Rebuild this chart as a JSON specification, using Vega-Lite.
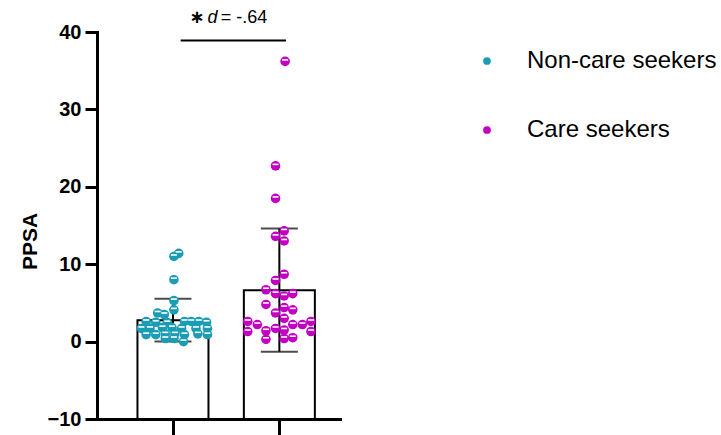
{
  "$schema": "https://vega.github.io/schema/vega-lite/v6.json",
  "autosize": {"type": "none"},
  "width": 243,
  "height": 387,
  "padding": {"left": 97, "top": 32, "right": 381, "bottom": 16},
  "background": "white",
  "config": {
    "view": {"stroke": null},
    "font": "Liberation Sans",
    "axis": {"grid": false, "domainColor": "black", "tickColor": "black", "domainWidth": 3, "tickWidth": 3, "domainCap": "square"}
  },
  "datasets": {
    "points": [
      {"group": "Non-care seekers", "x": 1.054, "PPSA": 11.4},
      {"group": "Non-care seekers", "x": 1.009, "PPSA": 11.0},
      {"group": "Non-care seekers", "x": 1.009, "PPSA": 8.0},
      {"group": "Non-care seekers", "x": 1.009, "PPSA": 5.3},
      {"group": "Non-care seekers", "x": 1.009, "PPSA": 4.1},
      {"group": "Non-care seekers", "x": 0.856, "PPSA": 3.7},
      {"group": "Non-care seekers", "x": 0.919, "PPSA": 3.5},
      {"group": "Non-care seekers", "x": 0.748, "PPSA": 2.6},
      {"group": "Non-care seekers", "x": 0.838, "PPSA": 2.5},
      {"group": "Non-care seekers", "x": 0.946, "PPSA": 2.45},
      {"group": "Non-care seekers", "x": 1.108, "PPSA": 2.6},
      {"group": "Non-care seekers", "x": 1.171, "PPSA": 2.6},
      {"group": "Non-care seekers", "x": 1.243, "PPSA": 2.6},
      {"group": "Non-care seekers", "x": 1.315, "PPSA": 2.5},
      {"group": "Non-care seekers", "x": 0.703, "PPSA": 1.7},
      {"group": "Non-care seekers", "x": 0.784, "PPSA": 1.7},
      {"group": "Non-care seekers", "x": 0.901, "PPSA": 1.8},
      {"group": "Non-care seekers", "x": 0.991, "PPSA": 1.8},
      {"group": "Non-care seekers", "x": 1.081, "PPSA": 1.7},
      {"group": "Non-care seekers", "x": 1.216, "PPSA": 1.7},
      {"group": "Non-care seekers", "x": 1.324, "PPSA": 1.7},
      {"group": "Non-care seekers", "x": 0.748, "PPSA": 0.9},
      {"group": "Non-care seekers", "x": 0.838, "PPSA": 0.9},
      {"group": "Non-care seekers", "x": 0.928, "PPSA": 1.0},
      {"group": "Non-care seekers", "x": 1.018, "PPSA": 1.0},
      {"group": "Non-care seekers", "x": 1.108, "PPSA": 0.9},
      {"group": "Non-care seekers", "x": 1.234, "PPSA": 1.0},
      {"group": "Non-care seekers", "x": 1.324, "PPSA": 0.9},
      {"group": "Non-care seekers", "x": 0.928, "PPSA": 0.4},
      {"group": "Non-care seekers", "x": 1.009, "PPSA": 0.4},
      {"group": "Non-care seekers", "x": 1.099, "PPSA": 0.0},
      {"group": "Care seekers", "x": 2.054, "PPSA": 36.2},
      {"group": "Care seekers", "x": 1.964, "PPSA": 22.7},
      {"group": "Care seekers", "x": 1.964, "PPSA": 18.5},
      {"group": "Care seekers", "x": 2.045, "PPSA": 14.3},
      {"group": "Care seekers", "x": 1.964, "PPSA": 13.6},
      {"group": "Care seekers", "x": 2.045, "PPSA": 13.0},
      {"group": "Care seekers", "x": 2.045, "PPSA": 8.7},
      {"group": "Care seekers", "x": 1.964, "PPSA": 7.9},
      {"group": "Care seekers", "x": 1.874, "PPSA": 6.7},
      {"group": "Care seekers", "x": 1.964, "PPSA": 6.2},
      {"group": "Care seekers", "x": 2.045, "PPSA": 5.9},
      {"group": "Care seekers", "x": 2.126, "PPSA": 6.2},
      {"group": "Care seekers", "x": 1.874, "PPSA": 4.8},
      {"group": "Care seekers", "x": 1.964, "PPSA": 3.7},
      {"group": "Care seekers", "x": 2.045, "PPSA": 4.4},
      {"group": "Care seekers", "x": 2.126, "PPSA": 4.1},
      {"group": "Care seekers", "x": 1.703, "PPSA": 2.6},
      {"group": "Care seekers", "x": 1.793, "PPSA": 2.2},
      {"group": "Care seekers", "x": 2.045, "PPSA": 3.0},
      {"group": "Care seekers", "x": 2.126, "PPSA": 2.2},
      {"group": "Care seekers", "x": 2.216, "PPSA": 2.2},
      {"group": "Care seekers", "x": 2.297, "PPSA": 2.6},
      {"group": "Care seekers", "x": 1.703, "PPSA": 1.3},
      {"group": "Care seekers", "x": 1.874, "PPSA": 1.4},
      {"group": "Care seekers", "x": 1.964, "PPSA": 1.7},
      {"group": "Care seekers", "x": 2.045, "PPSA": 1.5},
      {"group": "Care seekers", "x": 2.297, "PPSA": 1.3},
      {"group": "Care seekers", "x": 1.874, "PPSA": 0.3},
      {"group": "Care seekers", "x": 2.045, "PPSA": 0.4},
      {"group": "Care seekers", "x": 2.126, "PPSA": 0.5}
    ],
    "summary": [
      {"group": "Non-care seekers", "x": 1, "mean": 2.75, "low": 0.0, "high": 5.55},
      {"group": "Care seekers", "x": 2, "mean": 6.65, "low": -1.3, "high": 14.6}
    ],
    "sig": [
      {"x": 1.072, "x2": 2.063, "y": 38.9}
    ],
    "labels": [
      {"x": 1.225, "y": 41.8, "text": "∗", "part": "star"},
      {"x": 1.325, "y": 41.8, "text": "d", "part": "d"},
      {"x": 1.45, "y": 41.8, "text": "= -.64", "part": "rest"}
    ]
  },
  "layer": [
    {
      "data": {"name": "summary"},
      "mark": {"type": "bar", "orient": "vertical", "size": 71, "fill": "white", "stroke": "black", "strokeWidth": 2},
      "encoding": {
        "x": {"field": "x", "type": "quantitative", "scale": {"domain": [0.333, 2.523], "nice": false, "zero": false},
          "axis": {"values": [1, 2], "labels": false, "title": null, "tickSize": 16}},
        "y": {"field": "mean", "type": "quantitative", "scale": {"domain": [-10, 40], "nice": false},
          "axis": {"values": [-10, 0, 10, 20, 30, 40], "tickSize": 12, "labelFontSize": 20, "labelFontWeight": "bold", "labelColor": "black", "labelPadding": 4,
            "title": "PPSA", "titleFontSize": 21, "titleFontWeight": "bold", "titleColor": "black", "titleX": -61, "titleY": 209, "titleAngle": -90, "titleAlign": "center", "titleBaseline": "alphabetic"}},
        "y2": {"datum": -10}
      }
    },
    {
      "data": {"name": "summary"},
      "mark": {"type": "rule", "color": "black", "strokeWidth": 2},
      "encoding": {
        "x": {"field": "x", "type": "quantitative"},
        "y": {"field": "low", "type": "quantitative"},
        "y2": {"field": "high"}
      }
    },
    {
      "data": {"name": "summary"},
      "mark": {"type": "tick", "orient": "horizontal", "color": "black", "size": 37, "thickness": 2},
      "encoding": {
        "x": {"field": "x", "type": "quantitative"},
        "y": {"field": "high", "type": "quantitative"}
      }
    },
    {
      "data": {"name": "summary"},
      "mark": {"type": "tick", "orient": "horizontal", "color": "black", "size": 37, "thickness": 2},
      "encoding": {
        "x": {"field": "x", "type": "quantitative"},
        "y": {"field": "low", "type": "quantitative"}
      }
    },
    {
      "data": {"name": "points"},
      "mark": {"type": "circle", "size": 92, "opacity": 1},
      "encoding": {
        "x": {"field": "x", "type": "quantitative"},
        "y": {"field": "PPSA", "type": "quantitative"},
        "color": {"field": "group", "type": "nominal",
          "scale": {"domain": ["Non-care seekers", "Care seekers"], "range": ["#1b9cb5", "#c200c2"]},
          "legend": {"title": null, "orient": "none", "legendX": 378, "legendY": 17, "padding": 0, "symbolType": "circle", "symbolSize": 60, "symbolStrokeWidth": 0, "symbolOpacity": 1,
            "labelFontSize": 24, "labelColor": "black", "labelOffset": 28, "labelLimit": 0, "rowPadding": 45, "labelFont": "Liberation Sans"}}
      }
    },
    {
      "data": {"name": "points"},
      "mark": {"type": "tick", "orient": "horizontal", "color": "white", "size": 6, "thickness": 1.6, "yOffset": -1.5, "opacity": 1},
      "encoding": {
        "x": {"field": "x", "type": "quantitative"},
        "y": {"field": "PPSA", "type": "quantitative"}
      }
    },
    {
      "data": {"name": "sig"},
      "mark": {"type": "rule", "color": "black", "strokeWidth": 2},
      "encoding": {
        "x": {"field": "x", "type": "quantitative"},
        "x2": {"field": "x2"},
        "y": {"field": "y", "type": "quantitative"}
      }
    },
    {
      "data": {"name": "labels"},
      "transform": [{"filter": "datum.part == 'star'"}],
      "mark": {"type": "text", "fontSize": 18, "fontWeight": "bold", "align": "center", "baseline": "middle", "color": "black", "font": "DejaVu Sans"},
      "encoding": {
        "x": {"field": "x", "type": "quantitative"},
        "y": {"field": "y", "type": "quantitative"},
        "text": {"field": "text"}
      }
    },
    {
      "data": {"name": "labels"},
      "transform": [{"filter": "datum.part == 'd'"}],
      "mark": {"type": "text", "fontSize": 18, "fontStyle": "italic", "align": "left", "baseline": "middle", "color": "black"},
      "encoding": {
        "x": {"field": "x", "type": "quantitative"},
        "y": {"field": "y", "type": "quantitative"},
        "text": {"field": "text"}
      }
    },
    {
      "data": {"name": "labels"},
      "transform": [{"filter": "datum.part == 'rest'"}],
      "mark": {"type": "text", "fontSize": 18, "align": "left", "baseline": "middle", "color": "black"},
      "encoding": {
        "x": {"field": "x", "type": "quantitative"},
        "y": {"field": "y", "type": "quantitative"},
        "text": {"field": "text"}
      }
    }
  ]
}
